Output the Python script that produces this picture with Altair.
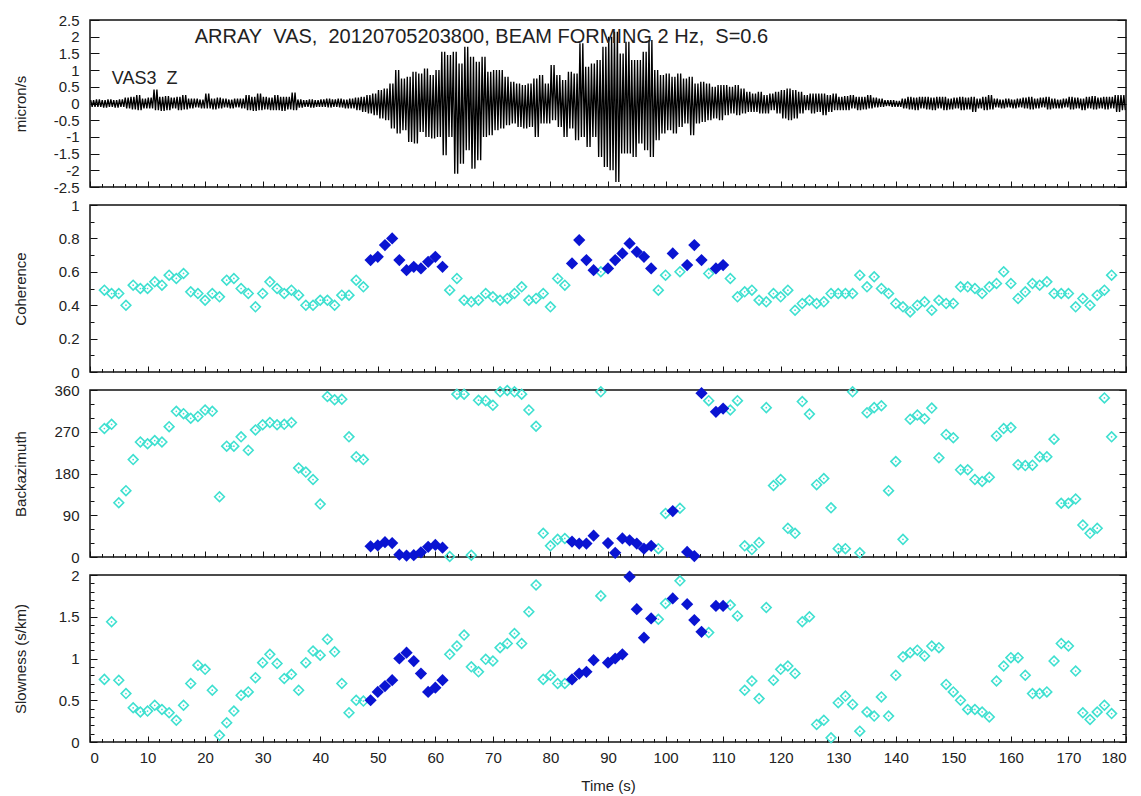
import altair as alt
import pandas as pd

# ---------------- data ----------------
T_START = 2.5      # first analysis window centre (s)
T_STEP = 1.25      # window step (s)
S_THRESHOLD = 0.6  # coherence threshold

coherence = [
    0.49, 0.47, 0.47, 0.40, 0.52, 0.50, 0.50, 0.54, 0.52, 0.58,
    0.56, 0.59, 0.48, 0.47, 0.43, 0.47, 0.45, 0.55, 0.56, 0.50,
    0.47, 0.39, 0.47, 0.54, 0.50, 0.47, 0.49, 0.46, 0.40, 0.40,
    0.43, 0.43, 0.40, 0.46, 0.46, 0.55, 0.51, 0.67, 0.69, 0.76,
    0.80, 0.67, 0.61, 0.63, 0.62, 0.66, 0.69, 0.63, 0.49, 0.56,
    0.43, 0.42, 0.43, 0.47, 0.45, 0.43, 0.44, 0.47, 0.51, 0.43,
    0.44, 0.47, 0.39, 0.56, 0.52, 0.65, 0.79, 0.67, 0.61, 0.60,
    0.62, 0.67, 0.71, 0.77, 0.72, 0.69, 0.62, 0.49, 0.58, 0.71,
    0.60, 0.64, 0.76, 0.67, 0.59, 0.62, 0.64, 0.56, 0.45, 0.48,
    0.49, 0.43, 0.42, 0.47, 0.45, 0.49, 0.37, 0.41, 0.43, 0.41,
    0.42, 0.47, 0.47, 0.47, 0.47, 0.58, 0.51, 0.57, 0.50, 0.47,
    0.41, 0.39, 0.36, 0.40, 0.42, 0.37, 0.43, 0.41, 0.41, 0.51,
    0.51, 0.50, 0.47, 0.51, 0.53, 0.60, 0.53, 0.44, 0.48, 0.53,
    0.52, 0.54, 0.47, 0.47, 0.47, 0.39, 0.44, 0.40, 0.46, 0.49,
    0.58,
]

backazimuth = [
    277, 286, 117, 143, 210, 248, 244, 251, 248, 281,
    314, 309, 299, 303, 317, 314, 130, 239, 239, 259,
    230, 274, 285, 290, 285, 286, 290, 192, 183, 167,
    114, 346, 339, 340, 259, 216, 210, 23, 25, 32,
    30, 5, 3, 4, 10, 22, 26, 20, 1, 351,
    351, 4, 338, 337, 327, 356, 359, 356, 351, 317,
    282, 51, 24, 38, 40, 33, 29, 29, 46, 356,
    30, 9, 40, 36, 29, 18, 24, 18, 94, 99,
    105, 11, 2, 353, 337, 313, 320, 317, 337, 24,
    16, 31, 322, 154, 167, 62, 51, 335, 308, 156,
    169, 106, 18, 18, 356, 9, 311, 322, 326, 143,
    206, 38, 297, 306, 298, 321, 214, 264, 257, 188,
    188, 167, 163, 172, 261, 277, 279, 199, 197, 198,
    216, 216, 254, 116, 116, 125, 69, 51, 62, 343,
    259,
]

slowness = [
    0.75, 1.44, 0.74, 0.58, 0.41, 0.36, 0.37, 0.44, 0.39, 0.35,
    0.26, 0.44, 0.70, 0.92, 0.87, 0.62, 0.08, 0.23, 0.37, 0.56,
    0.60, 0.77, 0.95, 1.05, 0.94, 0.76, 0.81, 0.62, 0.95, 1.09,
    1.04, 1.23, 1.08, 0.70, 0.35, 0.50, 0.49, 0.50, 0.60, 0.67,
    0.74, 1.00, 1.07, 0.97, 0.82, 0.60, 0.65, 0.74, 1.05, 1.15,
    1.28, 0.90, 0.84, 0.99, 0.97, 1.13, 1.18, 1.30, 1.18, 1.56,
    1.88, 0.75, 0.80, 0.70, 0.70, 0.75, 0.82, 0.84, 0.98, 1.75,
    0.95, 1.00, 1.05, 1.98, 1.59, 1.25, 1.48, 1.47, 1.66, 1.72,
    1.93, 1.65, 1.46, 1.32, 1.31, 1.63, 1.63, 1.64, 1.51, 0.62,
    0.73, 0.52, 1.61, 0.74, 0.87, 0.91, 0.82, 1.44, 1.50, 0.21,
    0.26, 0.05, 0.47, 0.55, 0.45, 0.13, 0.36, 0.31, 0.54, 0.31,
    0.80, 1.02, 1.07, 1.10, 1.03, 1.15, 1.13, 0.69, 0.60, 0.50,
    0.39, 0.39, 0.36, 0.30, 0.73, 0.91, 1.01, 1.01, 0.80, 0.58,
    0.58, 0.60, 0.97, 1.18, 1.15, 0.85, 0.35, 0.27, 0.36, 0.44,
    0.34,
]

# seismogram envelope, one max / min pair per second (micron/s)
wave_hi = [
    0.10, 0.12, 0.10, 0.12, 0.10, 0.12, 0.18, 0.20, 0.25, 0.15,
    0.18, 0.42, 0.20, 0.22, 0.18, 0.20, 0.25, 0.15, 0.15, 0.12,
    0.30, 0.15, 0.18, 0.15, 0.12, 0.15, 0.15, 0.25, 0.20, 0.30,
    0.20, 0.18, 0.25, 0.20, 0.20, 0.33, 0.12, 0.10, 0.12, 0.10,
    0.12, 0.15, 0.12, 0.15, 0.12, 0.15, 0.18, 0.20, 0.25, 0.30,
    0.40, 0.45, 0.60, 1.00, 0.75, 0.80, 0.95, 0.90, 1.05, 0.85,
    1.00, 1.55, 1.45, 1.55, 1.20, 1.70, 1.40, 1.25, 1.40, 0.95,
    1.00, 1.00, 0.80, 0.65, 0.60, 0.55, 0.60, 0.75, 0.85, 0.60,
    1.15, 0.85, 0.70, 0.95, 0.90, 1.80, 1.10, 1.20, 1.30, 1.70,
    2.00, 2.15, 1.50, 1.85, 1.30, 1.30, 1.55, 1.90, 1.00, 0.85,
    0.90, 0.80, 0.90, 0.75, 0.80, 0.60, 0.65, 0.60, 0.50, 0.55,
    0.55, 0.50, 0.55, 0.45, 0.35, 0.30, 0.35, 0.25, 0.30, 0.35,
    0.40, 0.45, 0.40, 0.35, 0.25, 0.30, 0.30, 0.30, 0.25, 0.30,
    0.20, 0.22, 0.25, 0.20, 0.20, 0.25, 0.18, 0.15, 0.10, 0.10,
    0.08, 0.15, 0.20, 0.18, 0.20, 0.20, 0.18, 0.20, 0.20, 0.15,
    0.18, 0.20, 0.18, 0.20, 0.15, 0.20, 0.25, 0.15, 0.12, 0.15,
    0.12, 0.15, 0.18, 0.20, 0.15, 0.18, 0.20, 0.15, 0.12, 0.15,
    0.20, 0.18, 0.15, 0.20, 0.22, 0.18, 0.20, 0.20, 0.25, 0.25,
]
wave_lo = [
    -0.10, -0.10, -0.12, -0.10, -0.12, -0.10, -0.15, -0.18, -0.20, -0.15,
    -0.15, -0.20, -0.22, -0.20, -0.15, -0.20, -0.18, -0.15, -0.12, -0.15,
    -0.15, -0.18, -0.15, -0.12, -0.15, -0.12, -0.15, -0.20, -0.22, -0.20,
    -0.18, -0.20, -0.20, -0.22, -0.18, -0.20, -0.12, -0.10, -0.12, -0.10,
    -0.10, -0.12, -0.10, -0.12, -0.15, -0.15, -0.20, -0.25, -0.30, -0.35,
    -0.45, -0.50, -0.75, -0.90, -0.80, -1.15, -1.20, -0.85, -1.00, -1.05,
    -1.00, -1.55, -1.00, -2.10, -1.80, -1.40, -1.95, -1.70, -1.00, -0.95,
    -0.80, -0.75, -0.65, -0.60, -0.70, -0.75, -0.70, -1.00, -0.60, -0.60,
    -0.50, -0.70, -1.00, -0.75, -1.10, -1.00, -1.30, -1.00, -1.60, -1.90,
    -2.00, -2.35, -1.50, -1.50, -1.60, -1.20, -1.40, -1.60, -1.10, -0.90,
    -0.80, -0.90, -0.70, -0.60, -0.95, -0.60, -0.55, -0.50, -0.45, -0.50,
    -0.35, -0.30, -0.35, -0.30, -0.25, -0.25, -0.30, -0.30, -0.20, -0.30,
    -0.45, -0.50, -0.45, -0.30, -0.20, -0.30, -0.25, -0.35, -0.25, -0.20,
    -0.20, -0.20, -0.15, -0.20, -0.18, -0.15, -0.12, -0.10, -0.08, -0.10,
    -0.10, -0.15, -0.18, -0.20, -0.15, -0.18, -0.20, -0.15, -0.20, -0.18,
    -0.15, -0.20, -0.18, -0.25, -0.15, -0.20, -0.18, -0.12, -0.15, -0.12,
    -0.15, -0.12, -0.15, -0.18, -0.15, -0.12, -0.18, -0.15, -0.15, -0.12,
    -0.18, -0.15, -0.20, -0.15, -0.18, -0.15, -0.18, -0.15, -0.25, -0.20,
]

title_text = "ARRAY\u00a0 VAS,\u00a0 20120705203800, BEAM FORMING 2 Hz,\u00a0 S=0.6"
station_text = "VAS3\u00a0 Z"

x_label_values = [0, 10, 20, 30, 40, 50, 60, 70, 80, 90, 100, 110, 120, 130, 140, 150, 160, 170, 180]
wave_label_values = [-2.5, -2, -1.5, -1, -0.5, 0, 0.5, 1, 1.5, 2, 2.5]
coh_label_values = [0, 0.2, 0.4, 0.6, 0.8, 1]
baz_label_values = [0, 90, 180, 270, 360]
slo_label_values = [0, 0.5, 1, 1.5, 2]

x_tick_values = list(range(0, 181, 2))
coh_tick_values = [round(i * 0.1, 1) for i in range(11)]
baz_tick_values = list(range(0, 361, 30))
slo_tick_values = [round(i * 0.1, 1) for i in range(21)]

assert len(coherence) == len(backazimuth) == len(slowness) == 141
assert len(wave_hi) == len(wave_lo) == 180

# ---------------- tables ----------------
times = [T_START + T_STEP * i for i in range(len(coherence))]
df = pd.DataFrame({"t": times, "coh": coherence, "baz": backazimuth, "slo": slowness})
sel = df["coh"] > S_THRESHOLD
df_c = df[~sel]
df_b = df[sel]

# each one-second envelope pair is traced twice so the trace reads as a dense oscillation
wt, wv = [], []
for i, (h, l) in enumerate(zip(wave_hi, wave_lo)):
    wt += [i + 0.125, i + 0.375, i + 0.625, i + 0.875]
    wv += [h, l, h, l]
wave = pd.DataFrame({"t": wt, "v": wv})

# ---------------- styling ----------------
W, H = 1036, 167
FONT = "Liberation Sans"
CYAN = "#3fe0d0"
BLUE = "#0a14d2"
TXT = "#222222"

xs = alt.Scale(domain=[0, 180], nice=False, zero=False)


def cond(test, big, small):
    return {"condition": {"test": test, "value": big}, "value": small}


X_TICK = cond("datum.value % 10 === 0", 6, 3.5)


def panel(data, field, ydomain, title, label_values, tick_values, ytick, marks, bottom=False):
    ys = alt.Scale(domain=ydomain, nice=False, zero=False)
    base = alt.Chart(data)
    if bottom:
        xaxis = alt.Axis(orient="bottom", values=x_label_values, ticks=False, tickSize=0,
                         labelPadding=8, format="d", title="Time (s)", titlePadding=13)
    else:
        xaxis = None
    label_layer = base.mark_point(opacity=0).encode(
        x=alt.X("t:Q", scale=xs, axis=xaxis),
        y=alt.Y(f"{field}:Q", scale=ys, axis=alt.Axis(
            orient="left", values=label_values, ticks=False, tickSize=0, labelPadding=11,
            labelExpr="'' + datum.value", title=title, titleX=-70, titleY=H / 2,
            titleAngle=270, titleAlign="center", titleBaseline="middle")),
    )
    tick1 = base.mark_point(opacity=0).encode(
        x=alt.X("t:Q", scale=xs, axis=alt.Axis(orient="top", offset=-H, values=x_tick_values,
                                                labels=False, tickSize=X_TICK, title=None)),
        y=alt.Y(f"{field}:Q", scale=ys, axis=alt.Axis(orient="right", offset=-W, values=tick_values,
                                                       labels=False, tickSize=ytick, title=None)),
    )
    tick2 = base.mark_point(opacity=0).encode(
        x=alt.X("t:Q", scale=xs, axis=None),
        y=alt.Y(f"{field}:Q", scale=ys, axis=alt.Axis(orient="left", offset=-W, values=tick_values,
                                                       labels=False, tickSize=ytick, title=None)),
    )
    layers = [label_layer, tick1, tick2] + [m(ys) for m in marks]
    return alt.layer(*layers).resolve_axis(x="independent", y="independent").properties(width=W, height=H)


def scatter_marks(field):
    def cyan_open(ys):
        return alt.Chart(df_c).mark_point(shape="diamond", filled=False, size=95, strokeWidth=1.6,
                                          color=CYAN, opacity=1).encode(
            x=alt.X("t:Q", scale=xs, axis=None), y=alt.Y(f"{field}:Q", scale=ys, axis=None))

    def cyan_dot(ys):
        return alt.Chart(df_c).mark_point(shape="circle", filled=True, size=3, color=CYAN, opacity=1).encode(
            x=alt.X("t:Q", scale=xs, axis=None), y=alt.Y(f"{field}:Q", scale=ys, axis=None))

    def blue_fill(ys):
        return alt.Chart(df_b).mark_point(shape="diamond", filled=True, size=150, color=BLUE, opacity=1).encode(
            x=alt.X("t:Q", scale=xs, axis=None), y=alt.Y(f"{field}:Q", scale=ys, axis=None))

    return [cyan_open, cyan_dot, blue_fill]


def wave_line(ys):
    return alt.Chart(wave).mark_line(color="black", strokeWidth=1.35, clip=True).encode(
        x=alt.X("t:Q", scale=xs, axis=None), y=alt.Y("v:Q", scale=ys, axis=None))


def title_mark(ys):
    return alt.Chart(pd.DataFrame({"t": [18.2], "v": [1.99]})).mark_text(
        text=title_text, align="left", baseline="middle", font=FONT, fontSize=20, color=TXT).encode(
        x=alt.X("t:Q", scale=xs, axis=None), y=alt.Y("v:Q", scale=ys, axis=None))


def station_mark(ys):
    return alt.Chart(pd.DataFrame({"t": [3.8], "v": [0.72]})).mark_text(
        text=station_text, align="left", baseline="middle", font=FONT, fontSize=18, color=TXT).encode(
        x=alt.X("t:Q", scale=xs, axis=None), y=alt.Y("v:Q", scale=ys, axis=None))


p_wave = panel(wave, "v", [-2.5, 2.5], "micron/s", wave_label_values, wave_label_values, 9,
               [wave_line, title_mark, station_mark])
p_coh = panel(df, "coh", [0, 1], "Coherence", coh_label_values, coh_tick_values,
              cond("round(datum.value * 10) % 2 === 0", 7, 4), scatter_marks("coh"))
p_baz = panel(df, "baz", [0, 360], "Backazimuth", baz_label_values, baz_tick_values,
              cond("datum.value % 90 === 0", 7, 4), scatter_marks("baz"))
p_slo = panel(df, "slo", [0, 2], "Slowness (s/km)", slo_label_values, slo_tick_values,
              cond("round(datum.value * 10) % 5 === 0", 7, 4), scatter_marks("slo"), bottom=True)

chart = alt.vconcat(p_wave, p_coh, p_baz, p_slo, spacing=18, bounds="flush").properties(
    padding={"left": 4, "top": 4, "right": 0, "bottom": 0},
    background="white",
).configure_view(
    stroke="#111111", strokeWidth=1.5
).configure_axis(
    labelFont=FONT, titleFont=FONT, labelFontSize=15, titleFontSize=15,
    titleFontWeight="normal", labelColor=TXT, titleColor=TXT,
    tickColor="#111111", tickWidth=1, grid=False, domain=False,
)

chart.save("out.html", embed_options={"renderer": "svg", "actions": False})
